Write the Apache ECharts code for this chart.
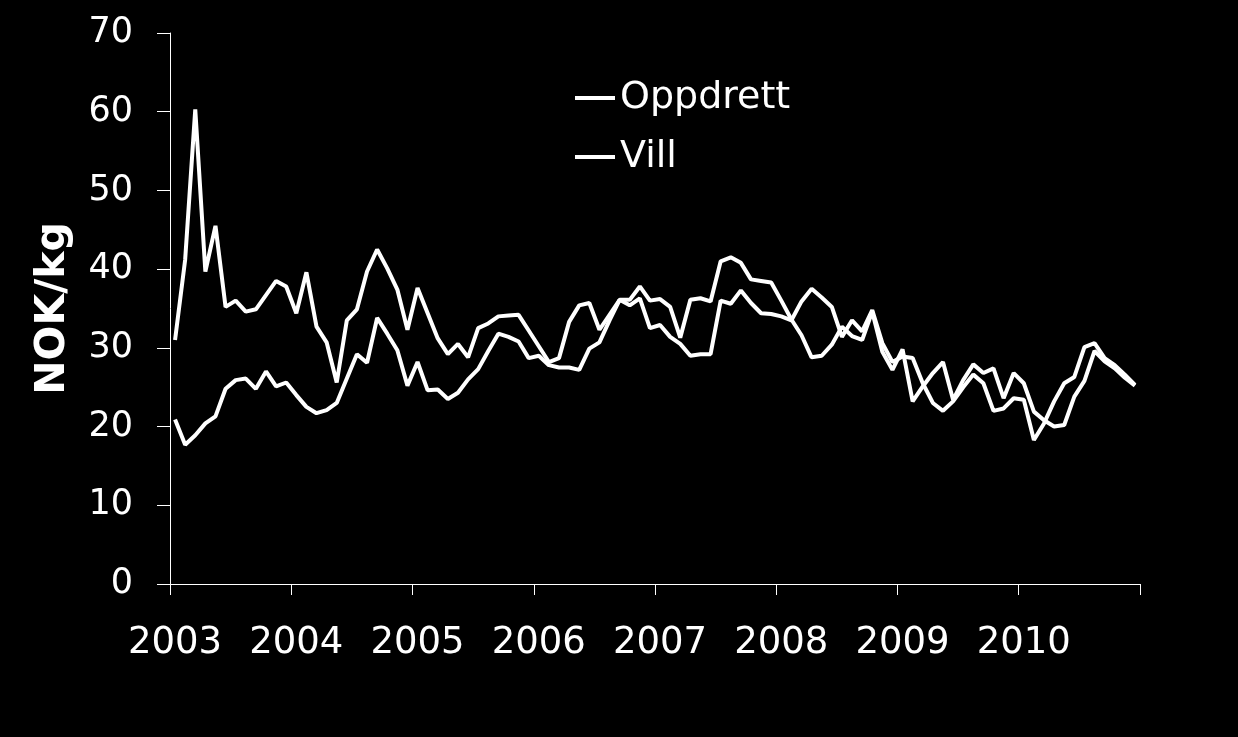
<!DOCTYPE html>
<html>
<head>
<meta charset="utf-8">
<script src="https://cdn.jsdelivr.net/npm/echarts@6/dist/echarts.min.js"></script>
<style>
html,body{margin:0;padding:0;background:#000;}
#chart{width:1238px;height:737px;}
</style>
</head>
<body>
<div id="chart"></div>
<script>
// Years covered (monthly data, Jan 2003 - Dec 2010)
const years = [2003, 2004, 2005, 2006, 2007, 2008, 2009, 2010];
const categories = [];
years.forEach(y => { for (let m = 1; m <= 12; m++) categories.push(y + '-' + (m < 10 ? '0' + m : m)); });

// Farmed (NOK/kg)
const oppdrett = [
  20.9, 17.7, 18.9, 20.4, 21.3, 24.8, 25.9, 26.1, 24.8, 27.0, 25.1, 25.6,
  24.0, 22.5, 21.7, 22.1, 23.0, 26.1, 29.2, 28.1, 33.8, 31.8, 29.7, 25.2,
  28.2, 24.6, 24.7, 23.5, 24.3, 26.0, 27.3, 29.6, 31.8, 31.4, 30.8, 28.7,
  29.0, 27.8, 27.5, 27.5, 27.2, 29.9, 30.7, 33.5, 36.1, 35.4, 36.3, 32.5,
  32.9, 31.4, 30.5, 29.0, 29.2, 29.2, 36.0, 35.6, 37.3, 35.7, 34.4, 34.3,
  34.0, 33.5, 35.9, 37.5, 36.4, 35.2, 31.4, 33.5, 32.1, 34.8, 30.6, 28.2,
  28.9, 28.7, 25.5, 23.0, 22.0, 23.2, 25.0, 26.6, 25.5, 22.0, 22.3, 23.6,
  23.4, 18.3, 20.4, 23.2, 25.5, 26.3, 30.1, 30.6, 28.7, 27.8, 26.6, 25.3
];

// Wild (NOK/kg)
const vill = [
  31.0, 41.2, 60.3, 39.7, 45.5, 35.2, 36.0, 34.6, 34.9, 36.7, 38.5, 37.8,
  34.4, 39.6, 32.7, 30.7, 25.6, 33.5, 34.9, 39.7, 42.5, 40.1, 37.4, 32.3,
  37.6, 34.4, 31.2, 29.2, 30.5, 28.8, 32.5, 33.1, 34.0, 34.1, 34.2, 32.2,
  30.2, 28.2, 28.7, 33.3, 35.4, 35.7, 32.3, 34.2, 36.1, 36.1, 37.8, 36.0,
  36.2, 35.2, 31.3, 36.1, 36.3, 35.9, 41.0, 41.5, 40.8, 38.7, 38.5, 38.3,
  36.0, 33.6, 31.6, 28.8, 29.0, 30.4, 32.7, 31.5, 31.0, 34.6, 29.5, 27.2,
  29.8, 23.2, 25.1, 26.8, 28.2, 23.4, 25.9, 27.9, 26.8, 27.4, 23.6, 26.8,
  25.5, 21.9, 20.8, 20.0, 20.2, 23.8, 25.8, 29.6, 28.3, 27.4, 26.2, 25.2
];

const yTicks = [0, 10, 20, 30, 40, 50, 60, 70];

const chart = echarts.init(document.getElementById('chart'));
const FONT = 'DejaVu Sans';
chart.setOption({
  backgroundColor: '#000',
  animation: false,
  grid: { left: 170, right: 98, top: 33, bottom: 153, containLabel: false },
  legend: {
    orient: 'vertical',
    left: 570,
    top: 73,
    itemWidth: 40,
    itemHeight: 4,
    itemGap: 19,
    textStyle: { color: '#fff', fontFamily: FONT, fontSize: 38, lineHeight: 40 },
    data: [
      { name: 'Oppdrett', icon: 'rect', itemStyle: { color: '#fff' } },
      { name: 'Vill', icon: 'rect', itemStyle: { color: '#fff' } }
    ]
  },
  xAxis: {
    type: 'category',
    data: categories,
    boundaryGap: true,
    axisLine: { show: true, lineStyle: { color: '#fff', width: 1 } },
    axisTick: {
      show: true, length: 11, inside: false,
      interval: (i) => i % 12 === 0,
      lineStyle: { color: '#fff', width: 1 }
    },
    axisLabel: {
      interval: (i) => i % 12 === 0,
      formatter: (v) => v.slice(0, 4),
      color: '#fff', fontFamily: FONT, fontSize: 37, margin: 41
    },
    splitLine: { show: false }
  },
  yAxis: {
    type: 'value',
    min: yTicks[0],
    max: yTicks[yTicks.length - 1],
    interval: 10,
    name: 'NOK/kg',
    nameLocation: 'middle',
    nameGap: 96,
    nameTextStyle: { color: '#fff', fontFamily: FONT, fontSize: 41, fontWeight: 'bold' },
    axisLine: { show: true, lineStyle: { color: '#fff', width: 1 } },
    axisTick: { show: true, length: 13, inside: false, lineStyle: { color: '#fff', width: 1 } },
    axisLabel: { color: '#fff', fontFamily: FONT, fontSize: 35, margin: 37 },
    splitLine: { show: false }
  },
  series: [
    {
      name: 'Oppdrett', type: 'line', data: oppdrett, symbol: 'none',
      lineStyle: { color: '#fff', width: 4 }, itemStyle: { color: '#fff' }
    },
    {
      name: 'Vill', type: 'line', data: vill, symbol: 'none',
      lineStyle: { color: '#fff', width: 4 }, itemStyle: { color: '#fff' }
    }
  ]
});
</script>
</body>
</html>
